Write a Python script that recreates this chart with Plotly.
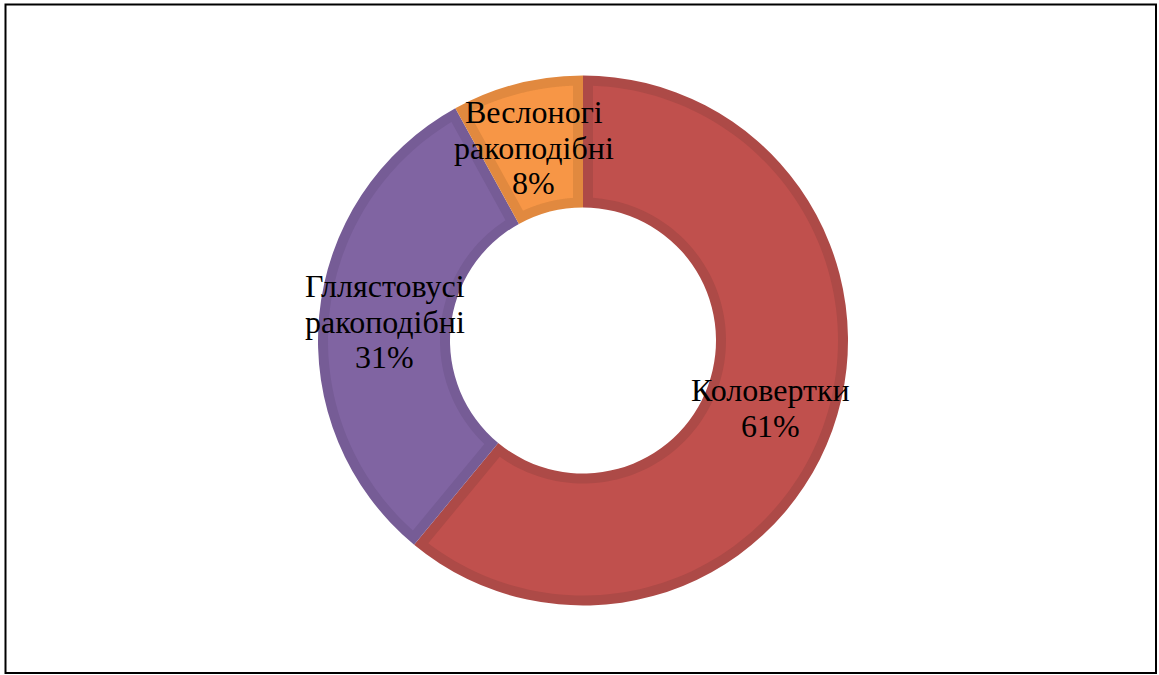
import math
import plotly.graph_objects as go

labels = ["Коловертки", "Гллястовусі<br>ракоподібні", "Веслоногі<br>ракоподібні"]
values = [61, 31, 8]
fill_colors = ["#C0504D", "#8064A2", "#F79646"]
edge_colors = ["#AD4A47", "#765C96", "#E1893F"]

W, H = 1159, 675
cx, cy = 583, 340.5      # pie centre (px)
R_out = 265              # outer radius (px)
R_in = 133               # hole radius (px)
band = 10                # darker edge band inside each slice (px)
line_gap = 35.5          # label line spacing (px)
font = dict(family="Liberation Serif", size=32, color="black")


def px2paper(x, y):
    return x / W, 1 - y / H


fig = go.Figure()

# base donut (edge colour) drawn by the pie trace
fig.add_trace(go.Pie(
    labels=[l.replace("<br>", " ") for l in labels],
    values=values,
    sort=False,
    direction="clockwise",
    rotation=0,
    hole=R_in / R_out,
    textinfo="none",
    hoverinfo="label+percent",
    marker=dict(colors=edge_colors, line=dict(width=0)),
    domain=dict(x=[(cx - R_out) / W, (cx + R_out) / W],
                y=[1 - (cy + R_out) / H, 1 - (cy - R_out) / H]),
    showlegend=False,
))

# lighter inner fill of each slice, inset by the edge band
total = sum(values)
cum = 0
annotations = []
shapes = []
for lab, v, fc in zip(labels, values, fill_colors):
    t0 = cum / total * 2 * math.pi
    cum += v
    t1 = cum / total * 2 * math.pi
    ro, ri = R_out - band, R_in + band
    ao, ai = math.asin(band / ro), math.asin(band / ri)
    pts = []
    n = 120
    for k in range(n + 1):
        th = (t0 + ao) + (t1 - ao - (t0 + ao)) * k / n
        pts.append(px2paper(cx + ro * math.sin(th), cy - ro * math.cos(th)))
    for k in range(n + 1):
        th = (t1 - ai) + ((t0 + ai) - (t1 - ai)) * k / n
        pts.append(px2paper(cx + ri * math.sin(th), cy - ri * math.cos(th)))
    path = "M " + " L ".join(f"{x:.6f},{y:.6f}" for x, y in pts) + " Z"
    shapes.append(dict(type="path", xref="paper", yref="paper", path=path,
                       fillcolor=fc, line=dict(width=0), layer="above"))

    mid = (t0 + t1) / 2
    r_mid = (R_out + R_in) / 2
    px = cx + r_mid * math.sin(mid)
    py = cy - r_mid * math.cos(mid)
    lines = lab.split("<br>") + [f"{round(v / total * 100)}%"]
    nl = len(lines)
    for i, txt in enumerate(lines):
        ax_, ay_ = px2paper(px, py + (i - (nl - 1) / 2) * line_gap)
        annotations.append(dict(
            x=ax_, y=ay_, xref="paper", yref="paper",
            text=txt, showarrow=False, xanchor="center", yanchor="middle",
            font=font,
        ))

x0, y0 = px2paper(5.5, 673)
x1, y1 = px2paper(1156, 4.5)
shapes.append(dict(type="rect", xref="paper", yref="paper",
                   x0=x0, x1=x1, y0=y0, y1=y1,
                   line=dict(color="black", width=2), layer="above"))

fig.update_layout(
    width=W, height=H,
    margin=dict(l=0, r=0, t=0, b=0),
    paper_bgcolor="white",
    annotations=annotations,
    shapes=shapes,
)

fig.write_html("out.html", config={"displayModeBar": False},
               post_script="document.body.style.margin='0px';")
